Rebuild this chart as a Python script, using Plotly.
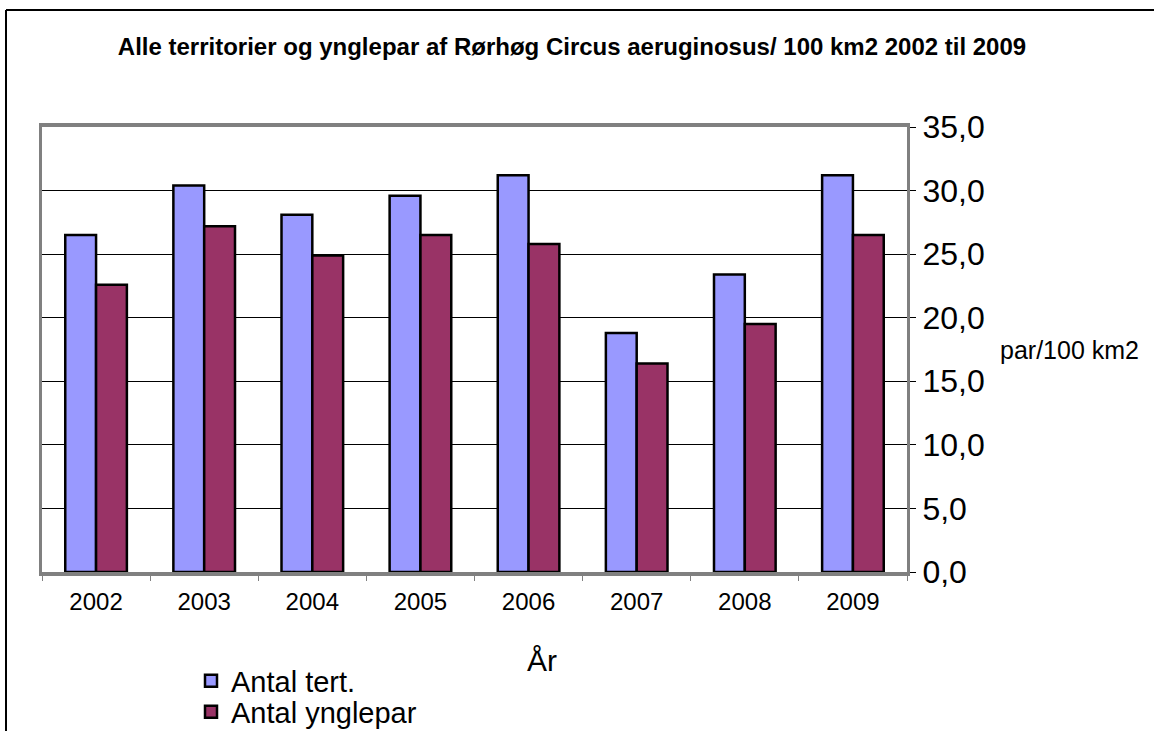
import plotly.graph_objects as go

years = ["2002", "2003", "2004", "2005", "2006", "2007", "2008", "2009"]
antal_tert = [26.5, 30.4, 28.1, 29.6, 31.2, 18.8, 23.4, 31.2]
antal_ynglepar = [22.6, 27.2, 24.9, 26.5, 25.8, 16.4, 19.5, 26.5]

title_text = "Alle territorier og ynglepar af Rørhøg Circus aeruginosus/ 100 km2 2002 til 2009"
y_title = "par/100 km2"
x_title = "År"

W, H = 1154, 731
L, R, T, B = 42, 907, 127, 572

fig = go.Figure()
fig.add_trace(go.Bar(x=years, y=antal_tert, name="Antal tert.", legend="legend",
                     marker=dict(color="#9999FF", line=dict(color="black", width=2.5))))
fig.add_trace(go.Bar(x=years, y=antal_ynglepar, name="Antal ynglepar", legend="legend2",
                     marker=dict(color="#993366", line=dict(color="black", width=2.5))))

def px_x(p):
    return (p - L) / (R - L)

def px_y(p):
    return (B - p) / (B - T)

def cx(p):
    return p / W

def cy(p):
    return 1 - p / H

legend_common = dict(xref="container", yref="container", xanchor="left", yanchor="middle",
                     font=dict(size=29), bgcolor="rgba(0,0,0,0)", itemwidth=30)

fig.update_layout(
    width=W, height=H,
    margin=dict(l=L, r=W - R, t=T, b=H - B, pad=0, autoexpand=False),
    paper_bgcolor="white", plot_bgcolor="white",
    separators=", ",
    barmode="group", bargap=0.43, bargroupgap=0,
    font=dict(family="Liberation Sans, Arial, sans-serif", color="black"),
    title=dict(text="<b>" + title_text + "</b>", xref="container", x=cx(572), xanchor="center",
               yref="container", y=cy(47), yanchor="middle", font=dict(size=24)),
    xaxis=dict(showgrid=False, showline=True, linecolor="#808080", linewidth=4,
               mirror=True, ticks="outside", tickson="boundaries", ticklen=5,
               tickcolor="#808080", tickfont=dict(size=24), ticklabelstandoff=5,
               automargin=False),
    yaxis=dict(side="right", range=[0, 35], dtick=5, tickformat=".1f",
               showgrid=True, gridcolor="black", gridwidth=1,
               showline=True, linecolor="#808080", linewidth=3, mirror=True,
               ticks="outside", ticklen=6, tickcolor="black",
               tickfont=dict(size=32), zeroline=False, automargin=False),
    legend=dict(x=cx(191), y=cy(681), **legend_common),
    legend2=dict(x=cx(191), y=cy(712), **legend_common),
    showlegend=True,
)

fig.add_annotation(text=y_title, xref="paper", yref="paper", x=px_x(998), y=px_y(350),
                   xanchor="left", yanchor="middle", showarrow=False, font=dict(size=25))
fig.add_annotation(text=x_title, xref="paper", yref="paper", x=px_x(542), y=px_y(660),
                   xanchor="center", yanchor="middle", showarrow=False, font=dict(size=30))

# outer chart frame (top and left edges)
fig.add_shape(type="line", xref="paper", yref="paper", x0=px_x(6), x1=px_x(1160),
              y0=px_y(10), y1=px_y(10), line=dict(color="black", width=2))
fig.add_shape(type="line", xref="paper", yref="paper", x0=px_x(6), x1=px_x(6),
              y0=px_y(10), y1=px_y(740), line=dict(color="black", width=2))

fig.write_html("out.html", config={"displayModeBar": False},
               post_script="document.body.style.margin='0';")
